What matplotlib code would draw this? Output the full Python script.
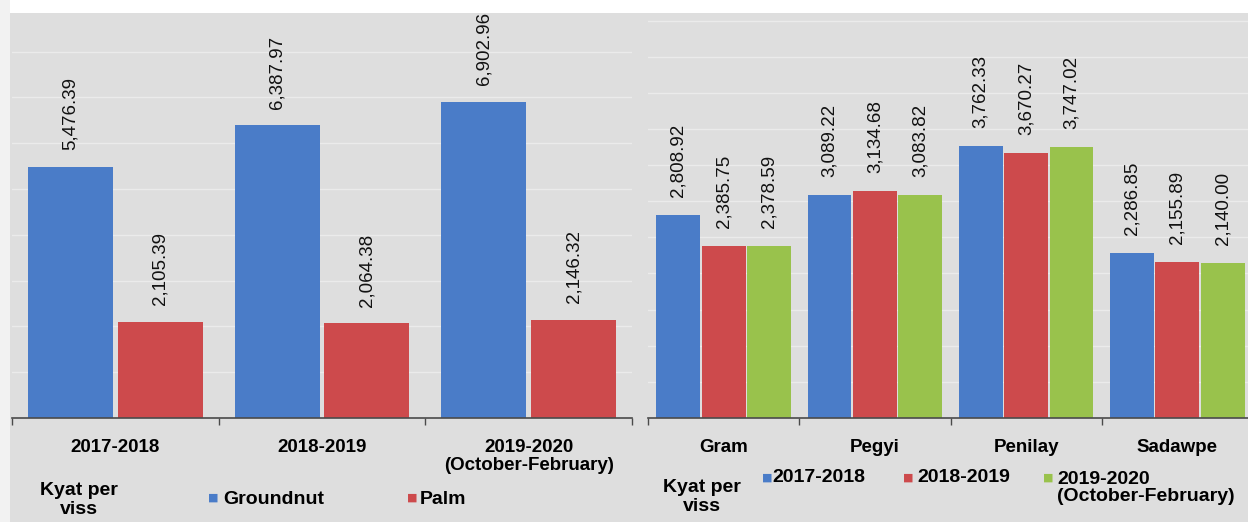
import matplotlib.pyplot as plt
from matplotlib.patches import Rectangle

# left panel: groundnut vs palm oil price
years = ["2017-2018", "2018-2019", "2019-2020\n(October-February)"]
groundnut = [5476.39, 6387.97, 6902.96]
palm = [2105.39, 2064.38, 2146.32]

# right panel: pulses price by year
pulses = ["Gram", "Pegyi", "Penilay", "Sadawpe"]
y2017 = [2808.92, 3089.22, 3762.33, 2286.85]
y2018 = [2385.75, 3134.68, 3670.27, 2155.89]
y2019 = [2378.59, 3083.82, 3747.02, 2140.00]
series_labels = ["2017-2018", "2018-2019", "2019-2020\n(October-February)"]

BLUE = "#4a7cc8"
RED = "#cd4a4c"
GREEN = "#99c24c"
BG = "#dedede"
FONT = "Liberation Sans"

plt.rcParams['font.family'] = [FONT, 'DejaVu Sans']

W, H = 1248, 522
fig = plt.figure(figsize=(W / 100, H / 100), dpi=100, facecolor=BG)
# white strips along the top and left edge of the scan
fig.patches.append(Rectangle((0, 1 - 13 / H), 1, 13 / H, transform=fig.transFigure,
                             facecolor="white", edgecolor="none", zorder=-1))
fig.patches.append(Rectangle((0, 0), 10 / W, 1, transform=fig.transFigure,
                             facecolor="#f2f2f2", edgecolor="none", zorder=-1))


def px_axes(x0, x1, top, bottom):
    return fig.add_axes([x0 / W, 1 - bottom / H, (x1 - x0) / W, (bottom - top) / H])


def style(ax, n, ymax, step):
    ax.set_facecolor(BG)
    ax.set_xlim(-0.5, n - 0.5)
    ax.set_ylim(0, ymax)
    for s in ["left", "right", "top"]:
        ax.spines[s].set_visible(False)
    ax.spines["bottom"].set_color("#4a4a4a")
    ax.spines["bottom"].set_linewidth(1.2)
    ax.set_yticks([])
    y = step
    while y < ymax:
        ax.axhline(y, color="white", lw=1.0, alpha=0.4, zorder=0)
        y += step
    ax.set_xticks([i - 0.5 for i in range(n + 1)], minor=True)
    ax.tick_params(axis="x", which="minor", length=5, width=1, color="#4a4a4a", direction="out")
    ax.tick_params(axis="x", which="major", length=0, pad=15)


def label_bars(ax, bars, vals, off):
    for b, v in zip(bars, vals):
        ax.annotate(f"{v:,.2f}", (b.get_x() + b.get_width() / 2, b.get_height()),
                    xytext=(0, off), textcoords="offset points", rotation=90,
                    ha="center", va="bottom", fontsize=13.5, color="#111111")


# ---- left panel
ax1 = px_axes(12, 632, 14, 418)
style(ax1, 3, 8820, 1000)
x1 = list(range(len(years)))
b1 = ax1.bar([x - 0.217 for x in x1], groundnut, 0.41, color=BLUE, zorder=2)
b2 = ax1.bar([x + 0.217 for x in x1], palm, 0.41, color=RED, zorder=2)
label_bars(ax1, b1, groundnut, 12)
label_bars(ax1, b2, palm, 12)
ax1.set_xticks(x1)
ax1.set_xticklabels(years, fontsize=13.5, fontweight="bold", linespacing=1.1)

# ---- right panel
ax2 = px_axes(648, 1253, 14, 418)
style(ax2, 4, 5590, 500)
x2 = list(range(len(pulses)))
w = 0.29
for vals, c, d in [(y2017, BLUE, -0.3), (y2018, RED, 0.0), (y2019, GREEN, 0.3)]:
    bb = ax2.bar([x + d for x in x2], vals, w, color=c, zorder=2)
    label_bars(ax2, bb, vals, 13)
ax2.set_xticks(x2)
ax2.set_xticklabels(pulses, fontsize=13.5, fontweight="bold")

# ---- legends / units
def ftxt(x, y, s, **kw):
    fig.text(x / W, 1 - y / H, s, **kw)

unit_kw = dict(ha="center", va="center", fontsize=14, fontweight="bold", linespacing=1.1)
ftxt(79, 500, "Kyat per\nviss", **unit_kw)
ftxt(702, 497, "Kyat per\nviss", **unit_kw)

leg_kw = dict(ha="left", va="center", fontsize=14, fontweight="bold")
mk_kw = dict(ha="center", va="center", fontsize=8, family="DejaVu Sans")
ftxt(213, 498, "■", color=BLUE, **mk_kw)
ftxt(223, 499, "Groundnut", **leg_kw)
ftxt(412, 498, "■", color=RED, **mk_kw)
ftxt(420, 499, "Palm", **leg_kw)

for xm, xt, c, s in [(767, 772, BLUE, series_labels[0]),
                     (908, 917, RED, series_labels[1]),
                     (1048, 1057, GREEN, series_labels[2])]:
    ftxt(xm, 478, "■", color=c, **mk_kw)
    ftxt(xt, 478 if "\n" not in s else 488, s, linespacing=1.05, **leg_kw)

fig.savefig("out.png", dpi=100, facecolor=BG)
